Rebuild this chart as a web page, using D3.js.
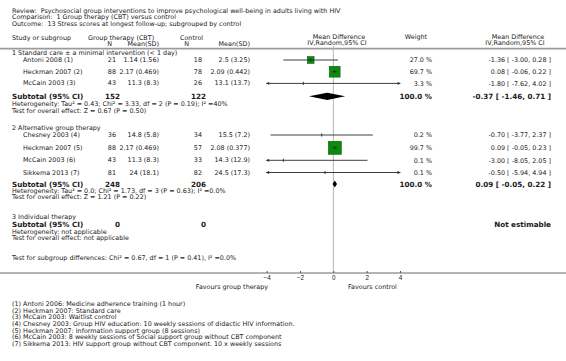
<!DOCTYPE html>
<html>
<head>
<meta charset="utf-8">
<script src="https://cdn.jsdelivr.net/npm/d3@7"></script>
<style>
  body { margin: 0; background: #fff; }
  svg { display: block; font-family: "DejaVu Sans", Verdana, sans-serif; }
  text { fill: #1a1a1a; white-space: pre; }
</style>
</head>
<body>
<div id="chart"></div>
<script>
// titles
const titleLines = [
  "Review:  Psychosocial group interventions to improve psychological well-being in adults living with HIV",
  "Comparison:  1 Group therapy (CBT) versus control",
  "Outcome:  13 Stress scores at longest follow-up; subgrouped by control"
];

// subgroups
const subgroups = [
  "1 Standard care \u00b1 a minimal intervention (< 1 day)",
  "2 Alternative group therapy",
  "3 Individual therapy"
];

// studies
const studies = ["Antoni 2008 (1)", "Heckman 2007 (2)", "McCain 2003 (3)", "Chesney 2003 (4)",
  "Heckman 2007 (5)", "McCain 2003 (6)", "Sikkema 2013 (7)"];
const studyGroup = [0, 0, 0, 1, 1, 1, 1];
const cbtN = [21, 88, 43, 36, 88, 43, 81];
const cbtMean = [1.14, 2.17, 11.3, 14.8, 2.17, 11.3, 24];
const cbtSD = [1.56, 0.469, 8.3, 5.8, 0.469, 8.3, 18.1];
const ctlN = [18, 78, 26, 34, 57, 33, 82];
const ctlMean = [2.5, 2.09, 13.1, 15.5, 2.08, 14.3, 24.5];
const ctlSD = [3.25, 0.442, 13.7, 7.2, 0.377, 12.9, 17.3];
const weight = [27.0, 69.7, 3.3, 0.2, 99.7, 0.1, 0.1];
const md = [-1.36, 0.08, -1.80, -0.70, 0.09, -3.00, -0.50];
const mdLow = [-3.00, -0.06, -7.62, -3.77, -0.05, -8.05, -5.94];
const mdHigh = [0.28, 0.22, 4.02, 2.37, 0.23, 2.05, 4.94];

// subtotals
const subCbtN = [152, 248, 0];
const subCtlN = [122, 206, 0];
const subMd = [-0.37, 0.09, null];
const subLow = [-1.46, -0.05, null];
const subHigh = [0.71, 0.22, null];
const heterogeneity = [
  "Heterogeneity: Tau\u00b2 = 0.43; Chi\u00b2 = 3.33, df = 2 (P = 0.19); I\u00b2 =40%",
  "Heterogeneity: Tau\u00b2 = 0.0; Chi\u00b2 = 1.73, df = 3 (P = 0.63); I\u00b2 =0.0%",
  "Heterogeneity: not applicable"
];
const overallEffect = [
  "Test for overall effect: Z = 0.67 (P = 0.50)",
  "Test for overall effect: Z = 1.21 (P = 0.22)",
  "Test for overall effect: not applicable"
];
const subgroupTest = "Test for subgroup differences: Chi\u00b2 = 0.67, df = 1 (P = 0.41), I\u00b2 =0.0%";

// axis
const axisTicks = [-4, -2, 0, 2, 4];
const axisDomain = [-4, 4];
const favours = ["Favours group therapy", "Favours control"];

// footnotes
const footnotes = [
  "(1) Antoni 2006: Medicine adherence training (1 hour)",
  "(2) Heckman 2007: Standard care",
  "(3) McCain 2003: Waitlist control",
  "(4) Chesney 2003: Group HIV education: 10 weekly sessions of didactic HIV information.",
  "(5) Heckman 2007: Information support group (8 sessions)",
  "(6) McCain 2003: 8 weekly sessions of Social support group without CBT component",
  "(7) Sikkema 2013: HIV support group without CBT component. 10 x weekly sessions"
];

(() => {
  const width = 566, height = 361;
  const fs = 6.4, fsBold = 7.2;
  const svg = d3.select("#chart").append("svg")
    .attr("width", width).attr("height", height);

  // column positions
  const col = { left: 12, indent: 23, gN: 116, gMean: 159, cN: 202, cMean: 250,
    subGN: 120, subCN: 206, weight: 432, est: 551 };
  const x = d3.scaleLinear().domain(axisDomain).range([266.7, 400]);

  // row layout
  const sections = [
    { label: 52.8, rows: [60, 71.7, 83.4], sub: 96.3, het: 104, test: 110.2 },
    { label: 127.8, rows: [135, 147.8, 160.3, 172.5], sub: 184, het: 190.8, test: 196.8 },
    { label: 216.6, rows: [], sub: 224, het: 231.6, test: 238 }
  ];
  const rowY = studies.map((s, i) => {
    const g = studyGroup[i];
    const k = studyGroup.slice(0, i).filter(v => v === g).length;
    return sections[g].rows[k];
  });

  const txt = (t, xx, yy, opts = {}) => svg.append("text")
    .attr("x", xx).attr("y", yy).attr("dy", "0.36em")
    .attr("text-anchor", opts.anchor || "start")
    .attr("font-size", opts.size || fs)
    .attr("font-weight", opts.bold ? "bold" : null)
    .text(t);

  // titles
  titleLines.forEach((t, i) => txt(t, col.left, 10.5 + i * 6.6));

  // headers
  txt("Study or subgroup", col.left, 37.5);
  txt("Group therapy (CBT)", 88, 37.5);
  txt("N", 112, 43.5, { anchor: "end" });
  txt("Mean(SD)", 159, 43.5, { anchor: "end" });
  txt("Control", 180, 37.5);
  txt("N", 189, 43.5, { anchor: "end" });
  txt("Mean(SD)", 250, 43.5, { anchor: "end" });
  txt("Mean Difference", 339, 37, { anchor: "middle" });
  txt("IV,Random,95% CI", 337, 43, { anchor: "middle" });
  txt("Weight", 416, 37, { anchor: "middle" });
  txt("Mean Difference", 518, 37, { anchor: "middle" });
  txt("IV,Random,95% CI", 515, 43, { anchor: "middle" });

  svg.append("line").attr("x1", 0).attr("x2", width).attr("y1", 48.6).attr("y2", 48.6)
    .attr("stroke", "#9b9b9b").attr("stroke-width", 1.6);

  // zero line
  svg.append("line").attr("x1", x(0)).attr("x2", x(0)).attr("y1", 46).attr("y2", 273)
    .attr("stroke", "#b5b5b5").attr("stroke-width", 1);

  const fmt2 = d3.format(".2f");
  const ciText = (m, l, h) => `${fmt2(m)} [ ${fmt2(l)}, ${fmt2(h)} ]`.replace(/\u2212/g, "-");

  // subgroup blocks
  subgroups.forEach((g, gi) => {
    const s = sections[gi];
    txt(g, col.left, s.label);
    txt("Subtotal (95% CI)", col.left, s.sub, { bold: true, size: fsBold });
    txt(subCbtN[gi], col.subGN, s.sub, { bold: true, size: fsBold, anchor: "end" });
    txt(subCtlN[gi], col.subCN, s.sub, { bold: true, size: fsBold, anchor: "end" });
    if (subMd[gi] === null) {
      txt("Not estimable", col.est, s.sub, { bold: true, size: fsBold, anchor: "end" });
    } else {
      txt("100.0 %", col.weight, s.sub, { bold: true, size: fsBold, anchor: "end" });
      txt(ciText(subMd[gi], subLow[gi], subHigh[gi]), col.est, s.sub,
        { bold: true, size: fsBold, anchor: "end" });
      const y0 = s.sub, hh = 3.6;
      svg.append("path")
        .attr("d", `M${x(subLow[gi])},${y0}L${x(subMd[gi])},${y0 - hh}L${x(subHigh[gi])},${y0}L${x(subMd[gi])},${y0 + hh}Z`)
        .attr("fill", "#000");
    }
    txt(heterogeneity[gi], col.left, s.het);
    txt(overallEffect[gi], col.left, s.test);
  });

  // study rows
  const [dLo, dHi] = axisDomain;
  studies.forEach((st, i) => {
    const y0 = rowY[i];
    txt(st, col.indent, y0 - 0.3);
    txt(cbtN[i], col.gN, y0 - 0.3, { anchor: "end" });
    txt(`${cbtMean[i]} (${cbtSD[i]})`, col.gMean, y0 - 0.3, { anchor: "end" });
    txt(ctlN[i], col.cN, y0 - 0.3, { anchor: "end" });
    txt(`${ctlMean[i]} (${ctlSD[i]})`, col.cMean, y0 - 0.3, { anchor: "end" });
    txt(weight[i].toFixed(1) + " %", col.weight, y0, { anchor: "end" });
    txt(ciText(md[i], mdLow[i], mdHigh[i]), col.est, y0, { anchor: "end" });

    // square sized by weight
    const side = 1.3 * Math.sqrt(weight[i]);
    if (side > 3) {
      svg.append("rect")
        .attr("x", x(md[i]) - side / 2).attr("y", y0 - side / 2)
        .attr("width", side).attr("height", side)
        .attr("fill", "#0b8a0b").attr("stroke", "#05620a").attr("stroke-width", 0.6);
    }
    // CI line with arrows when clipped
    const l = Math.max(mdLow[i], dLo), h = Math.min(mdHigh[i], dHi);
    svg.append("line").attr("x1", x(l)).attr("x2", x(h)).attr("y1", y0).attr("y2", y0)
      .attr("stroke", "#2a2a2a").attr("stroke-width", 0.9);
    svg.append("line").attr("x1", x(md[i])).attr("x2", x(md[i]))
      .attr("y1", y0 - 1.6).attr("y2", y0 + 1.6)
      .attr("stroke", "#2a2a2a").attr("stroke-width", 0.9);
    if (mdLow[i] < dLo) {
      const ax = x(dLo);
      svg.append("path").attr("d", `M${ax - 1},${y0}L${ax + 2.5},${y0 - 1.4}L${ax + 2.5},${y0 + 1.4}Z`)
        .attr("fill", "#2a2a2a");
    }
    if (mdHigh[i] > dHi) {
      const ax = x(dHi);
      svg.append("path").attr("d", `M${ax + 1},${y0}L${ax - 2.5},${y0 - 1.4}L${ax - 2.5},${y0 + 1.4}Z`)
        .attr("fill", "#2a2a2a");
    }
  });

  txt(subgroupTest, col.left, 257.5);

  // axis
  const axisY = 273;
  svg.append("line").attr("x1", 0).attr("x2", width).attr("y1", axisY).attr("y2", axisY)
    .attr("stroke", "#9b9b9b").attr("stroke-width", 1.5);
  const axisG = svg.append("g").attr("transform", `translate(0,${axisY})`)
    .call(d3.axisBottom(x).tickValues(axisTicks).tickSizeInner(-2).tickSizeOuter(0).tickPadding(2));
  axisG.select(".domain").remove();
  axisG.selectAll(".tick line").attr("stroke", "#555");
  axisG.selectAll(".tick text").attr("font-size", fs).attr("font-family", null).attr("fill", "#1a1a1a");

  txt(favours[0], 268, 287, { anchor: "end" });
  txt(favours[1], 348, 287);

  footnotes.forEach((f, i) => txt(f, col.left, 303.5 + i * 6.7));
})();
</script>
</body>
</html>
